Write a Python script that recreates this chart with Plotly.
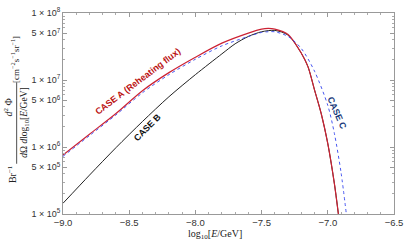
import plotly.graph_objects as go

# log10(E/GeV)
xA = [-9.0, -8.8, -8.6, -8.4, -8.2, -8.0, -7.8, -7.6, -7.5, -7.45, -7.4, -7.3, -7.2, -7.15, -7.1, -7.05, -7.0, -6.95, -6.92]
# log10 of flux
yA = [5.88, 6.19, 6.50, 6.84, 7.11, 7.34, 7.55, 7.70, 7.76, 7.77, 7.76, 7.68, 7.40, 7.20, 6.85, 6.50, 6.05, 5.45, 5.0]

xB = [-9.0, -8.8, -8.6, -8.4, -8.2, -8.0, -7.8, -7.7, -7.6, -7.5, -7.4, -7.3, -7.2, -7.15, -7.1, -7.05, -7.0, -6.95, -6.92]
yB = [5.16, 5.58, 5.99, 6.38, 6.75, 7.08, 7.39, 7.54, 7.65, 7.72, 7.74, 7.67, 7.40, 7.20, 6.85, 6.50, 6.05, 5.45, 5.0]

xC = [-9.0, -8.8, -8.6, -8.4, -8.2, -8.0, -7.8, -7.6, -7.5, -7.45, -7.4, -7.3, -7.2, -7.1, -7.0, -6.95, -6.9, -6.86]
yC = [5.86, 6.17, 6.48, 6.81, 7.08, 7.31, 7.51, 7.65, 7.71, 7.72, 7.72, 7.65, 7.47, 7.13, 6.62, 6.20, 5.62, 5.0]

x_ticks = [-9.0, -8.5, -8.0, -7.5, -7.0, -6.5]
x_ticktext = ["\u22129.0", "\u22128.5", "\u22128.0", "\u22127.5", "\u22127.0", "\u22126.5"]
y_ticks = [1e5, 5e5, 1e6, 5e6, 1e7, 5e7, 1e8]
y_ticktext = ["1 \u00d7 10<sup>5</sup>", "5 \u00d7 10<sup>5</sup>", "1 \u00d7 10<sup>6</sup>",
              "5 \u00d7 10<sup>6</sup>", "1 \u00d7 10<sup>7</sup>", "5 \u00d7 10<sup>7</sup>",
              "1 \u00d7 10<sup>8</sup>"]

def pw(v):
    return [10 ** t for t in v]

fig = go.Figure()
fig.add_trace(go.Scatter(x=xB, y=pw(yB), mode="lines", line=dict(color="#222222", width=1, shape="spline", smoothing=0.8), name="CASE B"))
fig.add_trace(go.Scatter(x=xA, y=pw(yA), mode="lines", line=dict(color="#cc2233", width=1.2, shape="spline", smoothing=0.8), name="CASE A"))
fig.add_trace(go.Scatter(x=xC, y=pw(yC), mode="lines", line=dict(color="#3344ee", width=0.9, dash="dot", shape="spline", smoothing=0.8), name="CASE C"))

minor_y = []
for e in range(5, 8):
    for m in range(2, 10):
        minor_y.append(m * 10 ** e)

tf = dict(family="Liberation Sans", size=9, color="#333")
fig.update_xaxes(range=[-9, -6.5], tickvals=x_ticks, ticktext=x_ticktext, ticks="inside", ticklen=4,
                 tickcolor="#999", showline=True, linecolor="#999", linewidth=1, mirror="ticks",
                 showgrid=False, zeroline=False, tickfont=dict(tf, size=9.5),
                 minor=dict(dtick=0.1, ticks="inside", ticklen=2, tickcolor="#aaa", showgrid=False))
fig.update_yaxes(type="log", range=[5, 8], tickvals=y_ticks, ticktext=y_ticktext, ticks="inside", ticklen=4,
                 tickcolor="#999", showline=True, linecolor="#999", linewidth=1, mirror="ticks",
                 showgrid=False, zeroline=False, tickfont=tf,
                 minor=dict(tickvals=minor_y, ticks="inside", ticklen=2, tickcolor="#aaa", showgrid=False))

serif = dict(family="Liberation Serif", size=10, color="#222")
cen = dict(xref="paper", yref="paper", textangle=-90, showarrow=False, xanchor="center", yanchor="middle")
ann = []
ann.append(dict(text="Br<sup>\u22121</sup>", x=-0.152, y=0.197, font=serif, **cen))
ann.append(dict(text="<i>d</i><sup>2</sup> \u03a6", x=-0.166, y=0.53, font=serif, **cen))
ann.append(dict(text="<i>d</i>\u03a9 <i>d</i>log<sub>10</sub>[<i>E</i>/GeV]", x=-0.116, y=0.452,
                font=dict(serif, size=9.5), **cen))
ann.append(dict(text="[cm<sup>\u22122</sup>s<sup>\u22121</sup>sr<sup>\u22121</sup>]", x=-0.145, y=0.766,
                font=dict(family="Liberation Serif", size=9, color="#222"), **cen))
ann.append(dict(text="log<sub>10</sub>[<i>E</i>/GeV]", x=0.46, y=-0.1, xref="paper", yref="paper",
                xanchor="center", yanchor="middle", showarrow=False, font=serif))
lab = dict(family="Liberation Sans", size=9)
ann.append(dict(text="<b>CASE A (Reheating flux)</b>", x=-8.43, y=6.98, textangle=-37, showarrow=False,
                xanchor="center", yanchor="middle", font=dict(lab, color="#bb1111")))
ann.append(dict(text="<b>CASE B</b>", x=-8.36, y=6.3, textangle=-45, showarrow=False,
                xanchor="center", yanchor="middle", font=dict(lab, color="#111111")))
ann.append(dict(text="<b>CASE C</b>", x=-6.93, y=6.51, textangle=66, showarrow=False,
                xanchor="center", yanchor="middle", font=dict(lab, color="#1a3a7a")))

fig.update_layout(width=409, height=242, margin=dict(l=63, r=11, t=6, b=28),
                  paper_bgcolor="white", plot_bgcolor="white", showlegend=False, annotations=ann,
                  shapes=[dict(type="line", xref="paper", yref="paper", x0=-0.14, x1=-0.14, y0=0.25, y1=0.655,
                               line=dict(color="#222", width=0.8))])
fig.write_html("out.html", config={"displayModeBar": False},
               post_script="document.body.style.margin='0';document.body.style.padding='0';")
